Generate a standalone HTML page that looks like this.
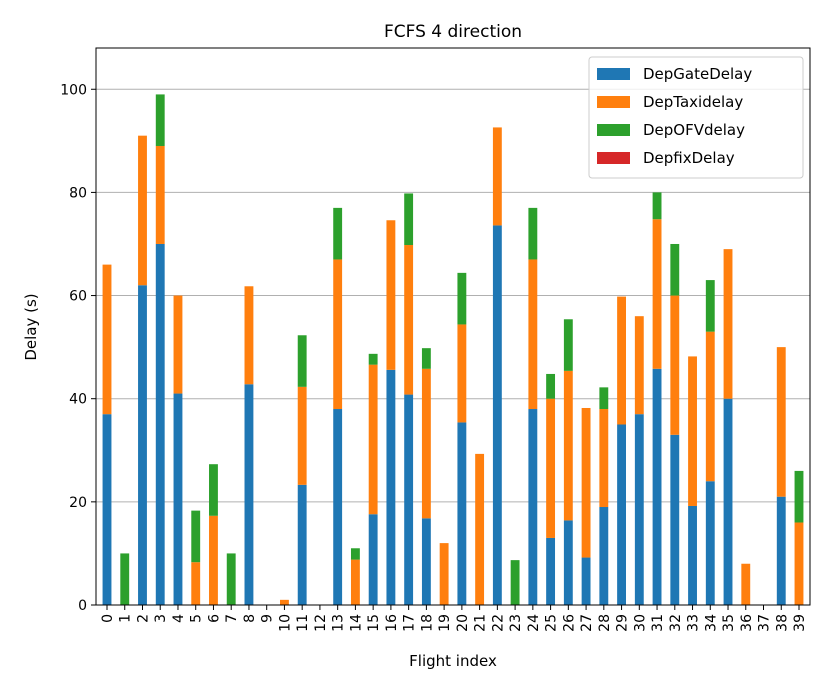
<!DOCTYPE html>
<html><head><meta charset="utf-8"><style>
body{margin:0;background:#fff}
svg{font-family:"DejaVu Sans","Liberation Sans",sans-serif}
</style></head><body>
<svg id="chart" width="830" height="692" xmlns="http://www.w3.org/2000/svg">
<rect width="830" height="692" fill="#fff"/>
<text x="453" y="37" font-size="17" text-anchor="middle">FCFS 4 direction</text>
<g id="grid"></g><g id="bars"></g><g id="axes"></g>
<text x="453" y="666" font-size="15" text-anchor="middle">Flight index</text>
<text transform="translate(36,327) rotate(-90)" font-size="15" text-anchor="middle">Delay (s)</text>
<g id="legend"></g>
</svg>
<script>
const gate=[37,0,62,70,41,0,0,0,42.8,0,0,23.3,0,38,0,17.6,45.6,40.8,16.8,0,35.4,0,73.6,0,38,13,16.4,9.2,19,35,37,45.8,33,19.2,24,40,0,0,21,0];
const taxi=[29,0,29,19,19,8.3,17.3,0,19,0,1,19,0,29,8.8,29,29,29,29,12,19,29.3,19,0,29,27,29,29,19,24.8,19,29,27,29,29,29,8,0,29,16];
const ofv=[0,10,0,10,0,10,10,10,0,0,0,10,0,10,2.2,2.1,0,10,4,0,10,0,0,8.7,10,4.8,10,0,4.2,0,0,5.2,10,0,10,0,0,0,0,10];
const fix=new Array(40).fill(0);
const yTicks=[0,20,40,60,80,100];
const series=[["DepGateDelay","#1f77b4",gate],["DepTaxidelay","#ff7f0e",taxi],["DepOFVdelay","#2ca02c",ofv],["DepfixDelay","#d62728",fix]];
const NS="http://www.w3.org/2000/svg";
const L=96,R=810,T=48,B=605,ymax=108,xmin=-0.62,xmax=39.62;
const X=i=>L+(i-xmin)/(xmax-xmin)*(R-L);
const Y=v=>B-v/ymax*(B-T);
function mk(t,a,p){const e=document.createElementNS(NS,t);for(const k in a)e.setAttribute(k,a[k]);p.appendChild(e);return e;}
const grid=document.getElementById('grid'),bars=document.getElementById('bars'),axes=document.getElementById('axes'),leg=document.getElementById('legend');
yTicks.forEach(v=>{
 const g=mk('line',{x1:L,x2:R,y1:Y(v),y2:Y(v),stroke:'#b0b0b0','stroke-width':1},grid);
 
 
 mk('line',{x1:L-5,x2:L,y1:Y(v),y2:Y(v),stroke:'#000'},axes);
 const t=mk('text',{x:L-9,y:Y(v)+5,'font-size':14,'text-anchor':'end'},axes);t.textContent=v;
 
 
});
const bw=0.5*(X(1)-X(0));
for(let i=0;i<40;i++){
 let base=0;
 series.forEach(([n,c,d])=>{
  const v=d[i];
  if(v>0){const r=mk('rect',{x:X(i)-bw/2,y:Y(base+v),width:bw,height:Y(base)-Y(base+v),fill:c},bars);
   
   }
  base+=v;
 });
 mk('line',{x1:X(i),x2:X(i),y1:B,y2:B+5,stroke:'#000'},axes);
 const t=mk('text',{transform:`translate(${X(i)+5},${B+9}) rotate(-90)`,'font-size':14,'text-anchor':'end'},axes);t.textContent=i;
 
 
}
mk('rect',{x:L,y:T,width:R-L,height:B-T,fill:'none',stroke:'#000','stroke-width':1},axes);
const lb=mk('rect',{x:589,y:57,width:214,height:121,fill:'#fff','fill-opacity':0.8,stroke:'#ccc',rx:3},leg);


series.forEach(([n,c],k)=>{
 const y=74+k*28;
 const p=mk('rect',{x:597,y:y-6,width:33,height:12,fill:c},leg);
 
 
 const t=mk('text',{x:643,y:y+5,'font-size':15},leg);t.textContent=n;
 
 
});
</script>
</body></html>
